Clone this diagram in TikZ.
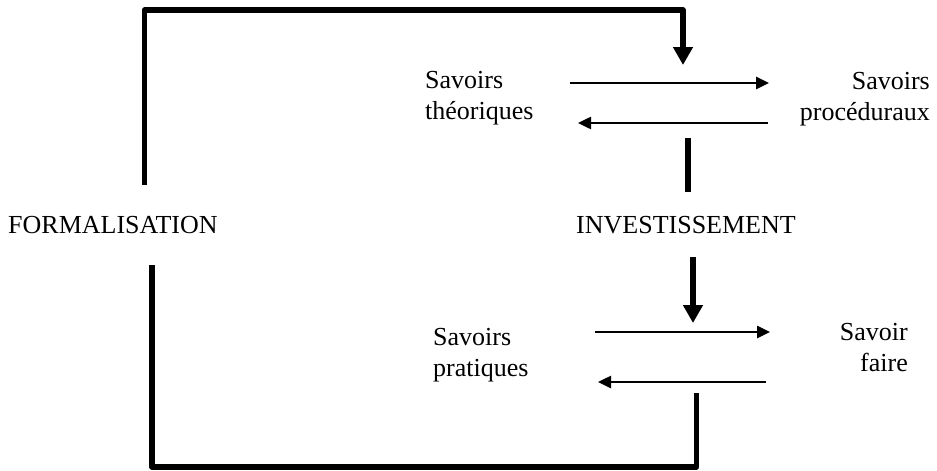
\documentclass[tikz,border=0pt]{standalone}
\usepackage{fontspec}
\setmainfont{Liberation Serif}
\usetikzlibrary{arrows.meta}
\tikzset{
  flow/.style={line width=5.5pt, line join=round},
  flowarrow/.style={flow, -{Triangle[length=18pt,width=19pt]}},
  exchange/.style={line width=2.5pt, -{Triangle[length=13pt,width=12pt]}},
  txt/.style={inner sep=0pt, font=\fontsize{26}{31}\selectfont},
}
\begin{document}
\begin{tikzpicture}[x=1pt,y=-1pt]
\useasboundingbox (0,0) rectangle (937,471);

% labels
\node[txt, anchor=base west] (form) at (8,233) {FORMALISATION};
\node[txt, anchor=base west] (inv) at (576,233) {INVESTISSEMENT};
\node[txt, anchor=base west] (theo) at (425,88)
  {\begin{tabular}[t]{@{}l@{}}Savoirs\\théoriques\end{tabular}};
\node[txt, anchor=base east] (proc) at (930,89)
  {\begin{tabular}[t]{@{}r@{}}Savoirs\\procéduraux\end{tabular}};
\node[txt, anchor=base west] (prat) at (433,345)
  {\begin{tabular}[t]{@{}l@{}}Savoirs\\pratiques\end{tabular}};
\node[txt, anchor=base east] (sfaire) at (908,340)
  {\begin{tabular}[t]{@{}r@{}}Savoir\\faire\end{tabular}};

% formalisation loop, upper branch
\coordinate (fu0) at (144.5,185);
\coordinate (fu1) at (144.5,10);
\coordinate (fu2) at (683,10);
\coordinate (fu3) at (683,65);
\draw[flowarrow] (fu0) -- (fu1) -- (fu2) -- (fu3);

% exchange between theoretical and procedural knowledge
\coordinate (ua) at (570,83);
\coordinate (ub) at (769,83);
\coordinate (uc) at (768,123);
\coordinate (ud) at (578,123);
\draw[exchange] (ua) -- (ub);
\draw[exchange] (uc) -- (ud);

% investment
\coordinate (ia) at (688,138);
\coordinate (ib) at (688,192);
\draw[flow] (ia) -- (ib);
\coordinate (ic) at (693,257);
\coordinate (id) at (693,323);
\draw[flowarrow] (ic) -- (id);

% exchange between practical knowledge and know-how
\coordinate (la) at (595,332);
\coordinate (lb) at (770,332);
\coordinate (lc) at (766,382);
\coordinate (ld) at (598,382);
\draw[exchange] (la) -- (lb);
\draw[exchange] (lc) -- (ld);

% formalisation loop, lower branch
\coordinate (fl0) at (696.5,393);
\coordinate (fl1) at (696.5,467);
\coordinate (fl2) at (152,467);
\coordinate (fl3) at (152,265);
\draw[flow] (fl0) -- (fl1) -- (fl2) -- (fl3);
\end{tikzpicture}
\end{document}
